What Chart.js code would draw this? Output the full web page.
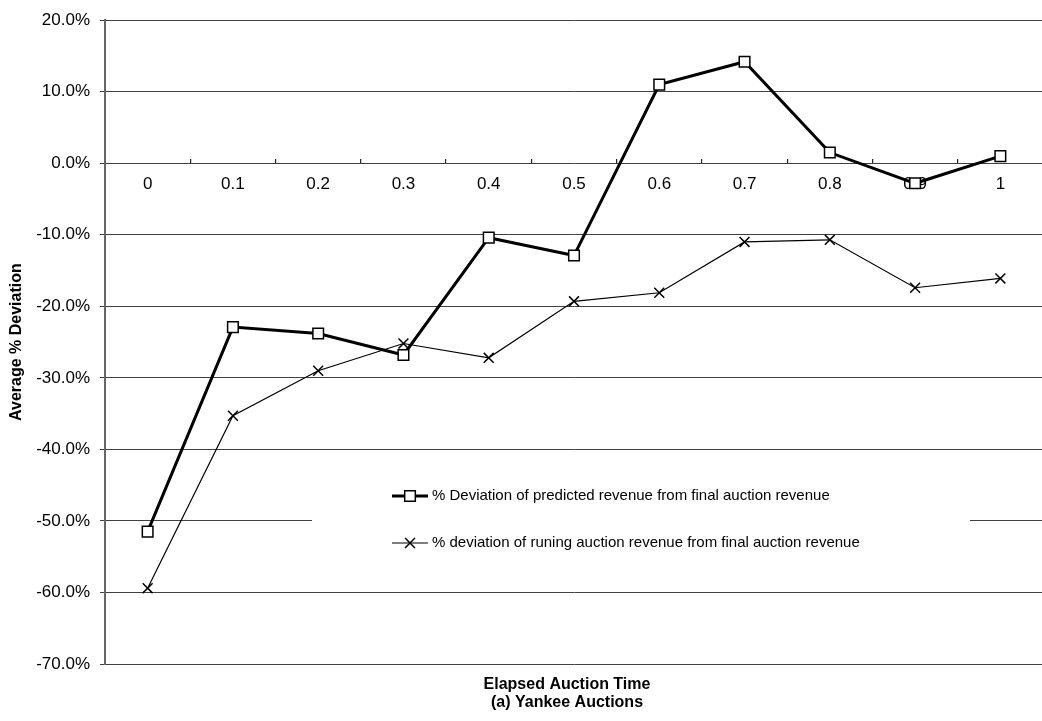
<!DOCTYPE html>
<html>
<head>
<meta charset="utf-8">
<script src="https://cdn.jsdelivr.net/npm/chart.js@4/dist/chart.umd.min.js"></script>
<style>
  html, body { margin: 0; padding: 0; background: #fff; }
  #wrap { width: 1042px; height: 721px; overflow: hidden; }
</style>
</head>
<body>
<div id="wrap"><canvas id="chart" width="1052" height="721"></canvas></div>
<script>
const elapsedTime = ["0", "0.1", "0.2", "0.3", "0.4", "0.5", "0.6", "0.7", "0.8", "0.9", "1"];
const predictedDeviation = [-51.5, -22.9, -23.8, -26.8, -10.4, -12.9, 11.0, 14.2, 1.5, -2.8, 1.0];
const runningDeviation = [-59.4, -35.3, -29.0, -25.2, -27.2, -19.3, -18.1, -11.0, -10.7, -17.4, -16.1];
const seriesNames = [
  "% Deviation of predicted revenue from final auction revenue",
  "% deviation of runing auction revenue from final auction revenue"
];
const xTitle = ["Elapsed Auction Time", "(a) Yankee Auctions"];
const yTitle = "Average % Deviation";

const FONT = "'Liberation Sans', Arial, sans-serif";
Chart.defaults.font.family = FONT;
Chart.defaults.color = "#000";

// legend sits inside the plot, on a white box that hides part of the -50% line
const legendInPlot = {
  id: "legendInPlot",
  afterDatasetsDraw(chart) {
    const ctx = chart.ctx;
    ctx.save();
    ctx.fillStyle = "#fff";
    ctx.fillRect(312, 470, 658, 100);
    const rows = [
      { y: 496, width: 3, style: "rect", radius: 7.5 },
      { y: 543, width: 1.2, style: "crossRot", radius: 7 }
    ];
    rows.forEach((r, i) => {
      ctx.strokeStyle = "#000";
      ctx.lineWidth = r.width;
      ctx.beginPath();
      ctx.moveTo(392, r.y);
      ctx.lineTo(428, r.y);
      ctx.stroke();
      ctx.fillStyle = "#fff";
      ctx.strokeStyle = "#000";
      ctx.lineWidth = 1.5;
      Chart.helpers.drawPoint(ctx, { pointStyle: r.style, rotation: 0, radius: r.radius, borderWidth: 1.5 }, 410, r.y);
      ctx.fillStyle = "#000";
      ctx.font = "15px " + FONT;
      ctx.textBaseline = "middle";
      ctx.textAlign = "left";
      ctx.fillText(seriesNames[i], 432, r.y);
    });
    ctx.restore();
  }
};

const bottomTitle = {
  id: "bottomTitle",
  afterDraw(chart) {
    const ctx = chart.ctx;
    ctx.save();
    ctx.fillStyle = "#000";
    ctx.font = "bold 16px " + FONT;
    ctx.textAlign = "center";
    ctx.textBaseline = "middle";
    ctx.fillText(xTitle[0], 567, 685);
    ctx.fillText(xTitle[1], 567, 703);
    ctx.restore();
  }
};

new Chart(document.getElementById("chart").getContext("2d"), {
  type: "line",
  data: {
    labels: elapsedTime,
    datasets: [{
      label: seriesNames[0],
      data: predictedDeviation,
      borderColor: "#000",
      borderWidth: 3,
      pointStyle: "rect",
      pointRadius: 7.5,
      pointBackgroundColor: "#fff",
      pointBorderColor: "#000",
      pointBorderWidth: 1.5,
      tension: 0
    }, {
      label: seriesNames[1],
      data: runningDeviation,
      borderColor: "#000",
      borderWidth: 1.2,
      pointStyle: "crossRot",
      pointRadius: 7,
      pointBorderColor: "#000",
      pointBorderWidth: 1.5,
      tension: 0
    }]
  },
  options: {
    responsive: false,
    animation: false,
    events: [],
    layout: { padding: { top: 16, bottom: 57, left: 0, right: 0 } },
    plugins: {
      legend: { display: false },
      tooltip: { enabled: false }
    },
    scales: {
      x: {
        type: "category",
        position: { y: 0 },
        offset: true,
        border: { display: false },
        grid: { offset: true, drawOnChartArea: false, drawTicks: true, tickLength: -4, color: "#222", lineWidth: 1.2 },
        ticks: { padding: 15, maxRotation: 0, autoSkip: false, font: { size: 17 } }
      },
      y: {
        min: -70,
        max: 20,
        afterFit(scale) { scale.width = 105; },
        border: { display: true, color: "#666", width: 2 },
        grid: { color: "#404040", lineWidth: 1, tickLength: 5 },
        ticks: {
          stepSize: 10,
          padding: 10,
          font: { size: 17 },
          callback: v => v.toFixed(1) + "%"
        },
        title: {
          display: true,
          text: yTitle,
          font: { size: 16, weight: "bold" },
          padding: { top: 7, bottom: 0 }
        }
      }
    }
  },
  plugins: [legendInPlot, bottomTitle]
});
</script>
</body>
</html>
